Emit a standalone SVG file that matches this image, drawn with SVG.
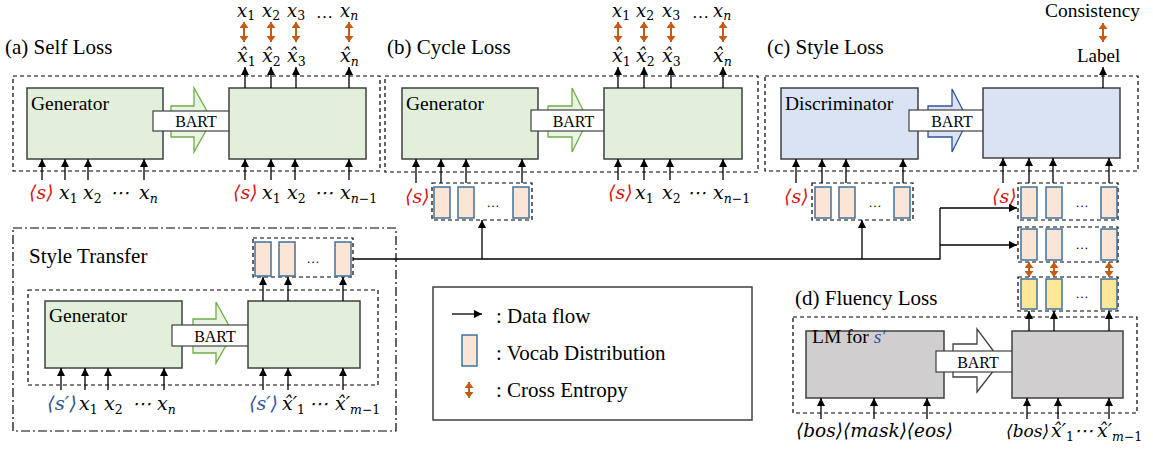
<svg xmlns="http://www.w3.org/2000/svg" width="1153" height="450" viewBox="0 0 1153 450">
<defs>
<style>
.t{font-family:"Liberation Serif","Times New Roman",serif;fill:#000}
.ttl{font-size:21px}
.lbl{font-size:19.5px}
.bart{font-size:16px}
.m{font-family:"DejaVu Serif","Liberation Serif",serif;font-style:italic;font-size:19px;fill:#000}
.top{font-size:18px}
.sub{font-size:12.5px;font-style:normal}
.si{font-size:12.5px;font-style:italic}
.red{fill:#e01010}
.blue{fill:#2f5597}
.dash{fill:none;stroke:#000;stroke-width:1.2;stroke-dasharray:4 3}
.dd{fill:none;stroke:#000;stroke-width:1.2;stroke-dasharray:9 3 2 3}
.gbox{fill:#e2efda;stroke:#404040;stroke-width:1.5}
.bbox{fill:#dae3f3;stroke:#404040;stroke-width:1.5}
.kbox{fill:#d0cece;stroke:#404040;stroke-width:1.5}
.bartbox{fill:#fff;stroke:#404040;stroke-width:1.2}
.garr{fill:#eaf4e2;stroke:#70ad47;stroke-width:1.3}
.barr{fill:#dae3f3;stroke:#2f5597;stroke-width:1.3}
.warr{fill:#fff;stroke:#404040;stroke-width:1.3}
.vb{fill:#fbe5d6;stroke:#41719c;stroke-width:1.5}
.yb{fill:#ffe699;stroke:#41719c;stroke-width:1.5}
.ar{fill:none;stroke:#000;stroke-width:1.3;marker-end:url(#ah)}
.ln{fill:none;stroke:#000;stroke-width:1.3}
.ce{fill:none;stroke:#c55a11;stroke-width:2;marker-start:url(#oh);marker-end:url(#oh)}
.dots{font-family:"Liberation Serif",serif;font-size:13px;fill:#000}
</style>
<marker id="ah" markerUnits="userSpaceOnUse" markerWidth="8" markerHeight="8" refX="8" refY="4" orient="auto"><path d="M0,0 L8,4 L0,8 z" fill="#000"/></marker>
<marker id="oh" markerUnits="userSpaceOnUse" markerWidth="7" markerHeight="9" refX="6" refY="4.5" orient="auto-start-reverse"><path d="M0,0 L6,4.5 L0,9 z" fill="#c55a11"/></marker>
</defs>
<rect width="1153" height="450" fill="#fff"/>

<!-- Panel (a) Self Loss -->
<g id="panel-a">
<text class="t ttl" x="5" y="54">(a) Self Loss</text>
<rect class="dash" x="13" y="76" width="367" height="95"/>
</g>
<g id="a-generator">
<rect class="gbox" x="27" y="88" width="136" height="71"/>
<text class="t lbl" x="31" y="110">Generator</text>
</g>
<g id="a-bart">
<polygon class="garr" points="171,106 194,106 194,88 212,120 194,152 194,137 171,137"/>
<rect class="bartbox" x="153" y="111" width="86" height="20"/>
<text class="t bart" x="196" y="127" text-anchor="middle">BART</text>
</g>
<g id="a-decoder"><rect class="gbox" x="229" y="88" width="137" height="71"/></g>
<g id="a-labels">
<text class="m top" x="237" y="17">x<tspan class="sub" dy="3">1</tspan></text>
<text class="m top" x="262" y="17">x<tspan class="sub" dy="3">2</tspan></text>
<text class="m top" x="287" y="17">x<tspan class="sub" dy="3">3</tspan></text>
<text class="t" x="316" y="18" font-size="17">…</text>
<text class="m top" x="340" y="17">x<tspan class="si" dy="3">n</tspan></text>
<text class="m" x="237" y="62">x&#x302;<tspan class="sub" dy="4">1</tspan></text>
<text class="m" x="262" y="62">x&#x302;<tspan class="sub" dy="4">2</tspan></text>
<text class="m" x="287" y="62">x&#x302;<tspan class="sub" dy="4">3</tspan></text>
<text class="m" x="340" y="62">x&#x302;<tspan class="si" dy="4">n</tspan></text>
<text class="m red" x="29" y="199">⟨s⟩</text>
<text class="m" x="59" y="199">x<tspan class="sub" dy="4">1</tspan></text>
<text class="m" x="83" y="199">x<tspan class="sub" dy="4">2</tspan></text>
<text class="m" x="110" y="199">⋯</text>
<text class="m" x="139" y="199">x<tspan class="si" dy="4">n</tspan></text>
<text class="m red" x="233" y="199">⟨s⟩</text>
<text class="m" x="262" y="199">x<tspan class="sub" dy="4">1</tspan></text>
<text class="m" x="287" y="199">x<tspan class="sub" dy="4">2</tspan></text>
<text class="m" x="314" y="199">⋯</text>
<text class="m" x="340" y="199">x<tspan class="si" dy="4">n</tspan><tspan class="sub">−1</tspan></text>
</g>

<!-- Panel (b) Cycle Loss -->
<g id="panel-b">
<text class="t ttl" x="387" y="54">(b) Cycle Loss</text>
<rect class="dash" x="385" y="76" width="373" height="96"/>
</g>
<g id="b-generator">
<rect class="gbox" x="402" y="88" width="136" height="71"/>
<text class="t lbl" x="406" y="110">Generator</text>
</g>
<g id="b-bart">
<polygon class="garr" points="548,106 572,106 572,88 588,120 572,152 572,137 548,137"/>
<rect class="bartbox" x="531" y="110" width="85" height="21"/>
<text class="t bart" x="573.5" y="126.5" text-anchor="middle">BART</text>
</g>
<g id="b-decoder"><rect class="gbox" x="604" y="88" width="138" height="71"/></g>
<g id="b-vocab">
<rect class="dash" x="432" y="183" width="100" height="37"/>
<rect class="vb" x="434" y="187" width="16" height="31"/>
<rect class="vb" x="458" y="187" width="16" height="31"/>
<rect class="vb" x="513" y="187" width="16" height="31"/>
<text class="dots" x="493" y="207" text-anchor="middle">…</text>
</g>
<g id="b-labels">
<text class="m top" x="612" y="17">x<tspan class="sub" dy="3">1</tspan></text>
<text class="m top" x="636" y="17">x<tspan class="sub" dy="3">2</tspan></text>
<text class="m top" x="662" y="17">x<tspan class="sub" dy="3">3</tspan></text>
<text class="t" x="692" y="18" font-size="17">…</text>
<text class="m top" x="713" y="17">x<tspan class="si" dy="3">n</tspan></text>
<text class="m" x="612" y="62">x&#x302;<tspan class="sub" dy="4">1</tspan></text>
<text class="m" x="636" y="62">x&#x302;<tspan class="sub" dy="4">2</tspan></text>
<text class="m" x="662" y="62">x&#x302;<tspan class="sub" dy="4">3</tspan></text>
<text class="m" x="713" y="62">x&#x302;<tspan class="si" dy="4">n</tspan></text>
<text class="m red" x="405" y="203">⟨s⟩</text>
<text class="m red" x="608" y="199">⟨s⟩</text>
<text class="m" x="635" y="199">x<tspan class="sub" dy="4">1</tspan></text>
<text class="m" x="662" y="199">x<tspan class="sub" dy="4">2</tspan></text>
<text class="m" x="687" y="199">⋯</text>
<text class="m" x="713" y="199">x<tspan class="si" dy="4">n</tspan><tspan class="sub">−1</tspan></text>
</g>

<!-- Panel (c) Style Loss -->
<g id="panel-c">
<text class="t ttl" x="767" y="54">(c) Style Loss</text>
<rect class="dash" x="765" y="76" width="373" height="95"/>
</g>
<g id="c-discriminator">
<rect class="bbox" x="781" y="88" width="137" height="71"/>
<text class="t lbl" x="785" y="110">Discriminator</text>
</g>
<g id="c-bart">
<polygon class="barr" points="928,106 952,106 952,89 968,120 952,152 952,137 928,137"/>
<rect class="bartbox" x="909" y="110" width="86" height="21"/>
<text class="t bart" x="952" y="126.5" text-anchor="middle">BART</text>
</g>
<g id="c-decoder"><rect class="bbox" x="983" y="88" width="137" height="70"/></g>
<g id="c-labels">
<text class="t" x="1045" y="17" font-size="18.5" textLength="95" lengthAdjust="spacingAndGlyphs">Consistency</text>
<text class="t" x="1077" y="62" font-size="19">Label</text>
<text class="m red" x="784" y="203">⟨s⟩</text>
<text class="m red" x="992" y="203">⟨s⟩</text>
</g>
<g id="c-vocab-left">
<rect class="dash" x="812" y="183" width="101" height="37"/>
<rect class="vb" x="815" y="187" width="16" height="31"/>
<rect class="vb" x="839" y="187" width="16" height="31"/>
<rect class="vb" x="894" y="187" width="16" height="31"/>
<text class="dots" x="875" y="207" text-anchor="middle">…</text>
</g>
<g id="c-vocab-right">
<rect class="dash" x="1018" y="183" width="100" height="37"/>
<rect class="vb" x="1021" y="187" width="16" height="31"/>
<rect class="vb" x="1046" y="187" width="16" height="31"/>
<rect class="vb" x="1101" y="187" width="16" height="31"/>
<text class="dots" x="1082" y="207" text-anchor="middle">…</text>
</g>
<g id="c-vocab-row2">
<rect class="dash" x="1018" y="227" width="100" height="35"/>
<rect class="vb" x="1021" y="229" width="16" height="31"/>
<rect class="vb" x="1046" y="229" width="16" height="31"/>
<rect class="vb" x="1101" y="229" width="16" height="31"/>
<text class="dots" x="1082" y="249" text-anchor="middle">…</text>
</g>
<g id="d-vocab">
<rect class="dash" x="1018" y="277" width="100" height="34"/>
<rect class="yb" x="1021" y="279" width="16" height="30"/>
<rect class="yb" x="1046" y="279" width="16" height="30"/>
<rect class="yb" x="1101" y="279" width="16" height="30"/>
<text class="dots" x="1082" y="298" text-anchor="middle">…</text>
</g>

<!-- Style Transfer -->
<g id="style-transfer">
<rect class="dd" x="13" y="228" width="383" height="203"/>
<text class="t ttl" x="29" y="263">Style Transfer</text>
<rect class="dash" x="28" y="290" width="350" height="95"/>
</g>
<g id="st-vocab">
<rect class="dash" x="253" y="238" width="100" height="39"/>
<rect class="vb" x="255" y="242" width="16" height="34"/>
<rect class="vb" x="279" y="242" width="16" height="34"/>
<rect class="vb" x="335" y="242" width="16" height="34"/>
<text class="dots" x="313" y="263" text-anchor="middle">…</text>
</g>
<g id="st-generator">
<rect class="gbox" x="45" y="301" width="137" height="67"/>
<text class="t lbl" x="49" y="322">Generator</text>
</g>
<g id="st-bart">
<polygon class="garr" points="193,319 216,319 216,302 233,333 216,363 216,353 193,353"/>
<rect class="bartbox" x="172" y="325" width="86" height="21"/>
<text class="t bart" x="215" y="341.5" text-anchor="middle">BART</text>
</g>
<g id="st-decoder"><rect class="gbox" x="248" y="301" width="112" height="67"/></g>
<g id="st-labels">
<text class="m blue" x="47" y="410" textLength="30" lengthAdjust="spacingAndGlyphs">⟨s′⟩</text>
<text class="m" x="79" y="410">x<tspan class="sub" dy="4">1</tspan></text>
<text class="m" x="104" y="410">x<tspan class="sub" dy="4">2</tspan></text>
<text class="m" x="132" y="410">⋯</text>
<text class="m" x="157" y="410">x<tspan class="si" dy="4">n</tspan></text>
<text class="m blue" x="249" y="410" textLength="29" lengthAdjust="spacingAndGlyphs">⟨s′⟩</text>
<text class="m" x="282" y="410">x&#x302;′<tspan class="sub" dy="4">1</tspan></text>
<text class="m" x="309" y="410">⋯</text>
<text class="m" x="335" y="410">x&#x302;′<tspan class="si" dy="4">m</tspan><tspan class="sub">−1</tspan></text>
</g>

<!-- Legend -->
<g id="legend">
<rect x="433" y="287" width="319" height="133" fill="#fff" stroke="#404040" stroke-width="1.5"/>
<line class="ar" x1="452" y1="314" x2="482" y2="314"/>
<text class="t ttl" x="496" y="323">: Data flow</text>
<rect class="vb" x="462" y="335" width="15" height="31"/>
<text class="t ttl" x="496" y="360">: Vocab Distribution</text>
<line class="ce" x1="469" y1="382" x2="469" y2="398"/>
<text class="t ttl" x="496" y="397">: Cross Entropy</text>
</g>

<!-- Panel (d) Fluency Loss -->
<g id="panel-d">
<text class="t ttl" x="795" y="305">(d) Fluency Loss</text>
<rect class="dash" x="793" y="317" width="344" height="96"/>
</g>
<g id="d-lm">
<rect class="kbox" x="806" y="331" width="138" height="67"/>
<text class="t lbl" x="812" y="343">LM for <tspan class="blue" font-style="italic">s′</tspan></text>
</g>
<g id="d-bart">
<polygon class="warr" points="953,344 977,344 977,329 1001,361 977,392 977,377 953,377"/>
<rect class="bartbox" x="936" y="351" width="84" height="21"/>
<text class="t bart" x="978" y="367.5" text-anchor="middle">BART</text>
</g>
<g id="d-decoder"><rect class="kbox" x="1012" y="331" width="111" height="67"/></g>
<g id="d-labels">
<text class="m" x="796" y="437" textLength="157" lengthAdjust="spacingAndGlyphs">⟨bos⟩⟨mask⟩⟨eos⟩</text>
<text class="m" y="437"><tspan x="1006" font-size="17">⟨bos⟩</tspan><tspan x="1051">x&#x302;′</tspan><tspan class="sub" dy="4">1</tspan><tspan dy="-4">⋯</tspan><tspan x="1097">x&#x302;′</tspan><tspan class="si" dy="4">m</tspan><tspan class="sub">−1</tspan></text>
</g>

<!-- Connectors -->
<g id="connectors">
<!-- (a) -->
<line class="ar" x1="42" y1="180" x2="42" y2="159"/>
<line class="ar" x1="65" y1="180" x2="65" y2="159"/>
<line class="ar" x1="88" y1="180" x2="88" y2="159"/>
<line class="ar" x1="144" y1="180" x2="144" y2="159"/>
<line class="ar" x1="245" y1="180" x2="245" y2="159"/>
<line class="ar" x1="271" y1="180" x2="271" y2="159"/>
<line class="ar" x1="295" y1="180" x2="295" y2="159"/>
<line class="ar" x1="349" y1="180" x2="349" y2="159"/>
<line class="ar" x1="245" y1="88" x2="245" y2="67"/>
<line class="ar" x1="271" y1="88" x2="271" y2="67"/>
<line class="ar" x1="296" y1="88" x2="296" y2="67"/>
<line class="ar" x1="349" y1="88" x2="349" y2="67"/>
<line class="ce" x1="244" y1="22" x2="244" y2="42"/>
<line class="ce" x1="271" y1="22" x2="271" y2="42"/>
<line class="ce" x1="296" y1="22" x2="296" y2="42"/>
<line class="ce" x1="349" y1="22" x2="349" y2="42"/>
<!-- (b) -->
<line class="ar" x1="416" y1="183" x2="416" y2="159"/>
<line class="ar" x1="441" y1="183" x2="441" y2="159"/>
<line class="ar" x1="466" y1="183" x2="466" y2="159"/>
<line class="ar" x1="522" y1="183" x2="522" y2="159"/>
<line class="ar" x1="618" y1="180" x2="618" y2="159"/>
<line class="ar" x1="644" y1="180" x2="644" y2="159"/>
<line class="ar" x1="670" y1="180" x2="670" y2="159"/>
<line class="ar" x1="723" y1="180" x2="723" y2="159"/>
<line class="ar" x1="618" y1="88" x2="618" y2="67"/>
<line class="ar" x1="644" y1="88" x2="644" y2="67"/>
<line class="ar" x1="671" y1="88" x2="671" y2="67"/>
<line class="ar" x1="723" y1="88" x2="723" y2="67"/>
<line class="ce" x1="618" y1="22" x2="618" y2="42"/>
<line class="ce" x1="644" y1="22" x2="644" y2="42"/>
<line class="ce" x1="671" y1="22" x2="671" y2="42"/>
<line class="ce" x1="723" y1="22" x2="723" y2="42"/>
<!-- (c) -->
<line class="ar" x1="796" y1="183" x2="796" y2="159"/>
<line class="ar" x1="822" y1="183" x2="822" y2="159"/>
<line class="ar" x1="846" y1="183" x2="846" y2="159"/>
<line class="ar" x1="903" y1="183" x2="903" y2="159"/>
<line class="ar" x1="1003" y1="183" x2="1003" y2="158"/>
<line class="ar" x1="1029" y1="183" x2="1029" y2="158"/>
<line class="ar" x1="1053" y1="183" x2="1053" y2="158"/>
<line class="ar" x1="1109" y1="183" x2="1109" y2="158"/>
<line class="ar" x1="1103" y1="88" x2="1103" y2="67"/>
<line class="ce" x1="1103" y1="23" x2="1103" y2="42"/>
<line class="ce" x1="1029" y1="262" x2="1029" y2="277"/>
<line class="ce" x1="1054" y1="262" x2="1054" y2="277"/>
<line class="ce" x1="1109" y1="262" x2="1109" y2="277"/>
<!-- Style transfer -->
<line class="ar" x1="61" y1="390" x2="61" y2="368"/>
<line class="ar" x1="85" y1="390" x2="85" y2="368"/>
<line class="ar" x1="108" y1="390" x2="108" y2="368"/>
<line class="ar" x1="164" y1="390" x2="164" y2="368"/>
<line class="ar" x1="263" y1="390" x2="263" y2="368"/>
<line class="ar" x1="288" y1="390" x2="288" y2="368"/>
<line class="ar" x1="343" y1="390" x2="343" y2="368"/>
<line class="ar" x1="263" y1="301" x2="263" y2="277"/>
<line class="ar" x1="288" y1="301" x2="288" y2="277"/>
<line class="ar" x1="343" y1="301" x2="343" y2="277"/>
<!-- distribution flow -->
<polyline class="ln" points="353,259 940,259 940,208"/>
<line class="ar" x1="482" y1="259" x2="482" y2="220"/>
<line class="ar" x1="862" y1="259" x2="862" y2="220"/>
<line class="ar" x1="940" y1="208" x2="1017" y2="208"/>
<line class="ar" x1="940" y1="245" x2="1017" y2="245"/>
<!-- (d) -->
<line class="ar" x1="821" y1="419" x2="821" y2="398"/>
<line class="ar" x1="874" y1="419" x2="874" y2="398"/>
<line class="ar" x1="927" y1="419" x2="927" y2="398"/>
<line class="ar" x1="1027" y1="419" x2="1027" y2="398"/>
<line class="ar" x1="1058" y1="419" x2="1058" y2="398"/>
<line class="ar" x1="1109" y1="419" x2="1109" y2="398"/>
<line class="ar" x1="1029" y1="331" x2="1029" y2="311"/>
<line class="ar" x1="1054" y1="331" x2="1054" y2="311"/>
<line class="ar" x1="1109" y1="331" x2="1109" y2="311"/>
</g>
</svg>
